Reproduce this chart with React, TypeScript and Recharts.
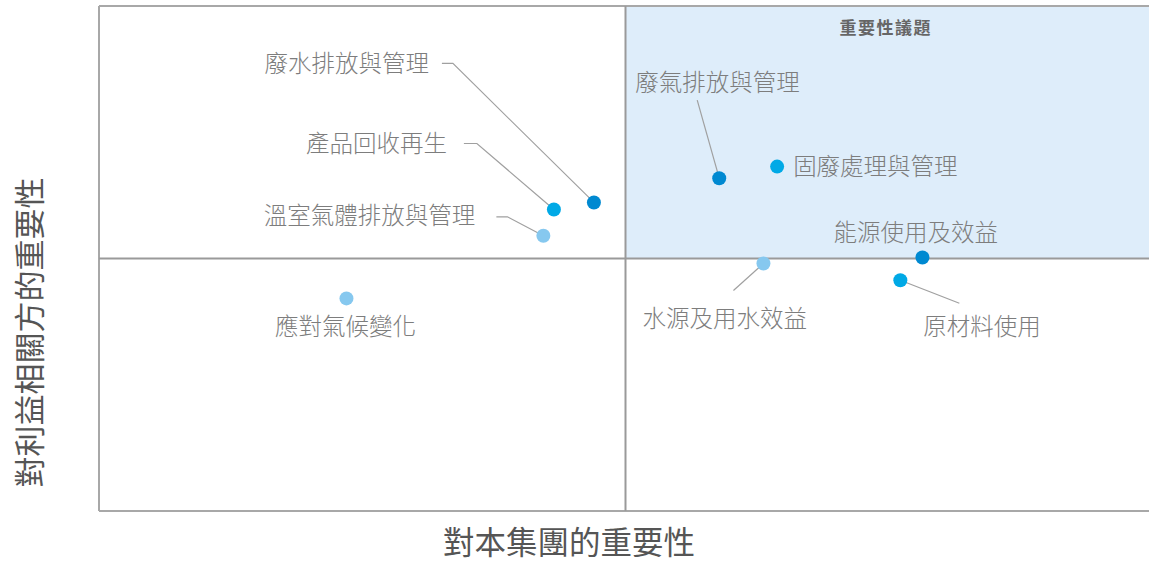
import {
  ReferenceArea,
  ReferenceLine,
  Scatter,
  ScatterChart,
  XAxis,
  YAxis,
} from 'recharts'

// 重大性議題矩陣：橫軸為對本集團的重要性，縱軸為對利益相關方的重要性
const topics = [
  '廢水排放與管理',
  '產品回收再生',
  '溫室氣體排放與管理',
  '應對氣候變化',
  '廢氣排放與管理',
  '固廢處理與管理',
  '能源使用及效益',
  '水源及用水效益',
  '原材料使用',
]
const groupImportance = [4.7, 4.32, 4.22, 2.35, 5.89, 6.44, 7.82, 6.31, 7.61]
const stakeholderImportance = [6.11, 5.97, 5.45, 4.21, 6.59, 6.82, 5.02, 4.9, 4.57]

const axisDomain = [0, 10]
const midpoint = 5

const FONT = '"Noto Sans CJK TC", "Noto Sans CJK SC", sans-serif'
const GRID = '#a8a8a8'

const dotColors: Record<string, string> = {
  廢水排放與管理: '#0089d1',
  產品回收再生: '#00a9e6',
  溫室氣體排放與管理: '#86c8ef',
  應對氣候變化: '#86c8ef',
  廢氣排放與管理: '#0089d1',
  固廢處理與管理: '#00a9e6',
  能源使用及效益: '#0089d1',
  水源及用水效益: '#86c8ef',
  原材料使用: '#00a9e6',
}

// label placement relative to the dot (px), plus optional leader line points
type Placement = { dx: number; dy: number; anchor: 'start' | 'middle' | 'end'; leader?: number[][] }
const placements: Record<string, Placement> = {
  廢水排放與管理: { dx: -165, dy: -140, anchor: 'end', leader: [[-152, -139], [-141, -139]] },
  產品回收再生: { dx: -107, dy: -68, anchor: 'end', leader: [[-90, -66], [-77, -66]] },
  溫室氣體排放與管理: { dx: -68, dy: -22, anchor: 'end', leader: [[-47, -19], [-36, -19]] },
  應對氣候變化: { dx: -1, dy: 27, anchor: 'middle' },
  廢氣排放與管理: { dx: -84, dy: -97, anchor: 'start', leader: [[-22, -78]] },
  固廢處理與管理: { dx: 16, dy: -2, anchor: 'start' },
  能源使用及效益: { dx: -89, dy: -26, anchor: 'start' },
  水源及用水效益: { dx: -121, dy: 53, anchor: 'start', leader: [[-30, 27]] },
  原材料使用: { dx: 23, dy: 45, anchor: 'start', leader: [[59, 23]] },
}

const points = topics.map((name, i) => ({
  name,
  x: groupImportance[i],
  y: stakeholderImportance[i],
}))

function TopicDot(props: any) {
  const { cx, cy, payload } = props
  const p = placements[payload.name]
  const leader = p.leader
    ? [...p.leader.map(([dx, dy]) => `${cx + dx},${cy + dy}`), `${cx},${cy}`].join(' ')
    : null
  return (
    <g>
      {leader && <polyline points={leader} fill="none" stroke="#a0a0a0" strokeWidth={1.2} />}
      <circle cx={cx} cy={cy} r={7} fill={dotColors[payload.name]} />
      <text
        x={cx + p.dx}
        y={cy + p.dy}
        textAnchor={p.anchor}
        dominantBaseline="central"
        fontFamily={FONT}
        fontSize={23.5}
        fontWeight={300}
        fill="#7d7d7d"
      >
        {payload.name}
      </text>
    </g>
  )
}

export default function App() {
  return (
    // the matrix runs a few px past the right edge, so its right border is clipped
    <div style={{ position: 'absolute', left: 0, top: 0, width: 1149, height: 561, overflow: 'hidden', background: '#fff' }}>
      <ScatterChart width={1152} height={561} margin={{ top: 6, right: 0, bottom: 0, left: 0 }}>
        <XAxis
          type="number"
          dataKey="x"
          domain={axisDomain}
          allowDataOverflow
          tick={false}
          axisLine={false}
          tickLine={false}
          height={50}
          label={{
            content: ({ viewBox }: any) => (
              <text
                x={569}
                y={viewBox.y + 29}
                textAnchor="middle"
                dominantBaseline="central"
                fontFamily={FONT}
                fontSize={31.5}
                fill="#555"
              >
                對本集團的重要性
              </text>
            ),
          }}
        />
        <YAxis
          type="number"
          dataKey="y"
          domain={axisDomain}
          allowDataOverflow
          tick={false}
          axisLine={false}
          tickLine={false}
          width={99}
          label={{
            content: ({ viewBox }: any) => (
              <text
                x={27}
                y={viewBox.y + viewBox.height / 2 + 74}
                textAnchor="middle"
                dominantBaseline="central"
                fontFamily={FONT}
                fontSize={31}
                fill="#555"
                transform={`rotate(-90, 27, ${viewBox.y + viewBox.height / 2 + 74})`}
              >
                對利益相關方的重要性
              </text>
            ),
          }}
        />
        <ReferenceArea
          x1={midpoint}
          x2={axisDomain[1]}
          y1={midpoint}
          y2={axisDomain[1]}
          fill="#deedfa"
          fillOpacity={1}
          stroke="none"
          label={{
            value: '重要性議題',
            position: 'insideTop',
            offset: 16,
            dx: -3,
            fontFamily: FONT,
            fontSize: 17,
            letterSpacing: 1.5,
            fontWeight: 700,
            fill: '#666',
          }}
        />
        <ReferenceLine x={axisDomain[0]} stroke={GRID} strokeWidth={2} />
        <ReferenceLine y={axisDomain[0]} stroke={GRID} strokeWidth={2} />
        <ReferenceLine y={axisDomain[1]} stroke={GRID} strokeWidth={2} />
        <ReferenceLine x={midpoint} stroke="#9a9a9a" strokeWidth={2} />
        <ReferenceLine y={midpoint} stroke="#9a9a9a" strokeWidth={2} />
        <Scatter data={points} shape={TopicDot} isAnimationActive={false} />
      </ScatterChart>
    </div>
  )
}
